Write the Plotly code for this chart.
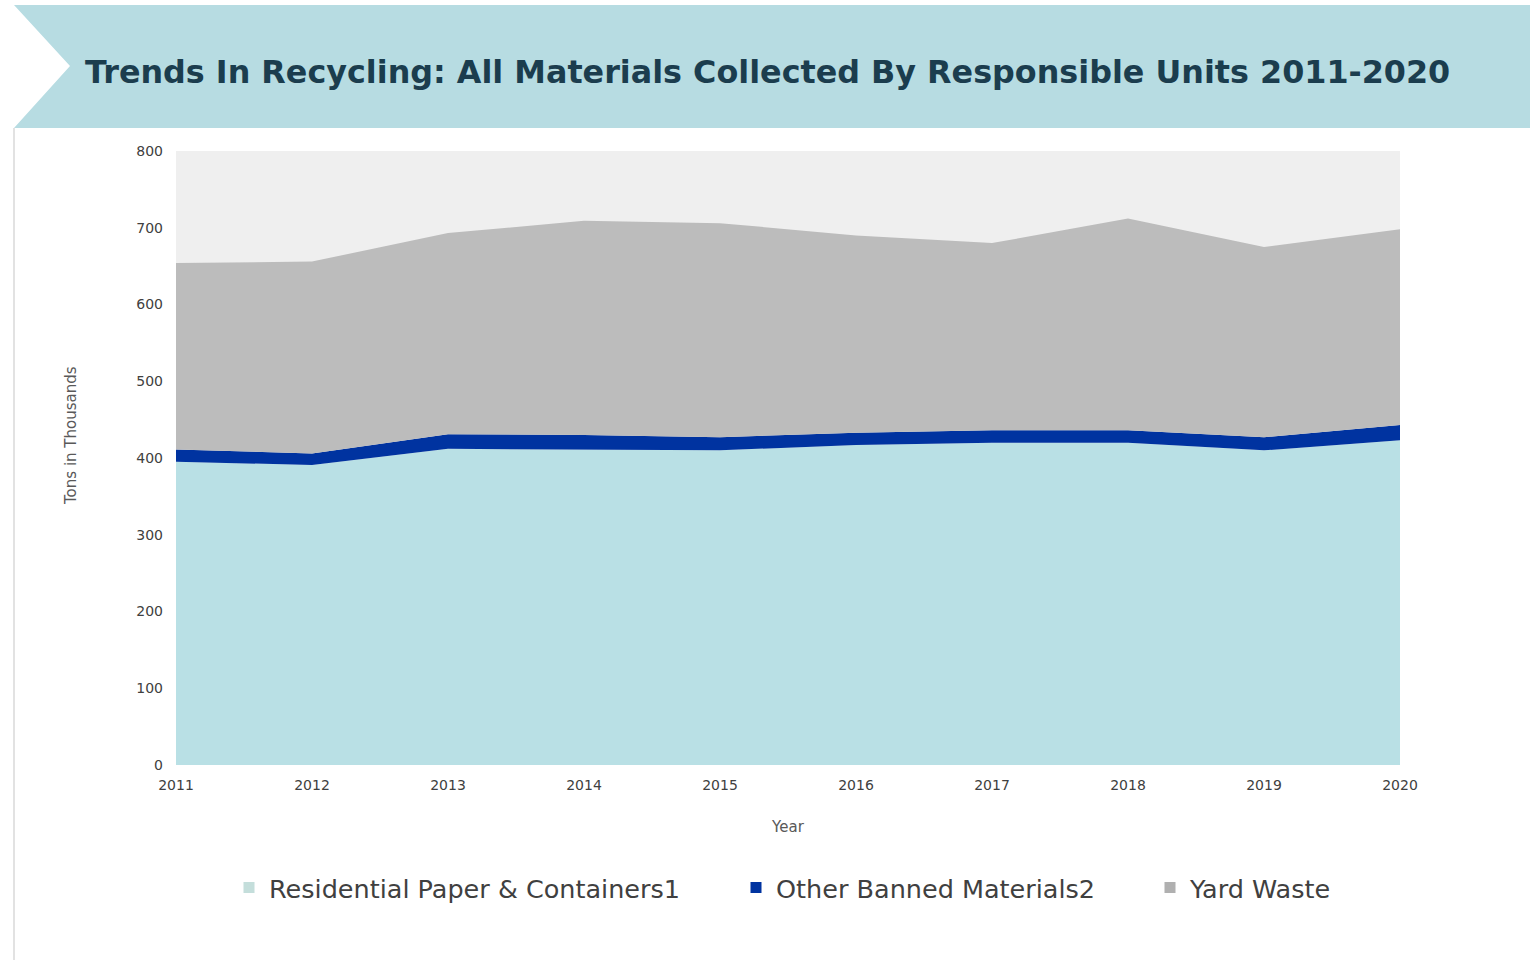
import plotly.graph_objects as go

years = [2011, 2012, 2013, 2014, 2015, 2016, 2017, 2018, 2019, 2020]
residential = [395, 391, 412, 411, 410, 417, 420, 420, 410, 423]
other_banned = [16, 15, 19, 19, 17, 16, 16, 16, 17, 20]
yard_waste = [243, 250, 262, 279, 279, 257, 244, 276, 248, 255]

series_names = ["Residential Paper & Containers1", "Other Banned Materials2", "Yard Waste"]
series_colors = ["#b9e0e5", "#0033a0", "#bcbcbc"]
legend_colors = ["#c4dedb", "#0033a0", "#b0b0b0"]
y_ticks = [0, 100, 200, 300, 400, 500, 600, 700, 800]

W, H = 1530, 960
ML, MR, MT, MB = 176, 130, 151, 195
PW, PH = W - ML - MR, H - MT - MB

def px(x):
    return (x - ML) / PW

def py(y):
    return (H - MB - y) / PH

fig = go.Figure()
for name, vals, col in zip(series_names, [residential, other_banned, yard_waste], series_colors):
    fig.add_trace(go.Scatter(
        x=years, y=vals, name=name, stackgroup="one", mode="lines",
        line=dict(width=0, color=col), fillcolor=col, showlegend=False,
        hoverinfo="x+y+name"))

legend_ids = ["legend", "legend2", "legend3"]
legend_text_x = [271, 778, 1192]
for name, col, lid in zip(series_names, legend_colors, legend_ids):
    fig.add_trace(go.Scatter(
        x=[None], y=[None], name=name, mode="markers", legend=lid,
        marker=dict(symbol="square", size=11, color=col), showlegend=True))

# banner
fig.add_shape(type="path", xref="paper", yref="paper",
              path=f"M {px(14)} {py(5)} L {px(1530)} {py(5)} L {px(1530)} {py(128)} L {px(14)} {py(128)} L {px(70)} {py(66)} Z",
              fillcolor="#b7dce2", line=dict(width=0), layer="below")
# left page border
fig.add_shape(type="line", xref="paper", yref="paper",
              x0=px(14), x1=px(14), y0=py(128), y1=py(960),
              line=dict(color="#d8d8d8", width=1.5), layer="below")

fig.add_annotation(text="<b>Trends In Recycling: All Materials Collected By Responsible Units 2011-2020</b>",
                   xref="paper", yref="paper", x=px(83), y=py(72), xanchor="left", yanchor="middle",
                   showarrow=False, font=dict(family="DejaVu Sans", size=31.8, color="#1b3d4e"))

fig.add_annotation(text="Tons in Thousands", xref="paper", yref="paper",
                   x=px(71), y=py(436), textangle=-90, showarrow=False,
                   xanchor="center", yanchor="middle",
                   font=dict(family="DejaVu Sans", size=15, color="#595959"))

legend_layout = {}
for lid, tx in zip(legend_ids, legend_text_x):
    legend_layout[lid] = dict(
        orientation="h", x=px(tx - 42), xanchor="left", y=py(888), yanchor="middle",
        font=dict(family="DejaVu Sans", size=25.5, color="#404040"),
        itemwidth=30, bgcolor="rgba(0,0,0,0)", borderwidth=0)

fig.update_layout(
    width=W, height=H,
    margin=dict(l=ML, r=MR, t=MT, b=MB),
    paper_bgcolor="white",
    plot_bgcolor="#efefef",
    font=dict(family="DejaVu Sans", color="#404040"),
    showlegend=True,
    xaxis=dict(range=[2011, 2020], tickmode="array", tickvals=years,
               ticktext=[str(y) for y in years], showgrid=False, zeroline=False,
               showline=False, ticks="", ticklabelstandoff=10,
               tickfont=dict(size=14, color="#404040"),
               title=dict(text="Year", font=dict(size=15, color="#595959"), standoff=29)),
    yaxis=dict(range=[0, 800], tickmode="array", tickvals=y_ticks, showgrid=False,
               zeroline=False, showline=False, ticks="", ticklabelstandoff=12,
               tickfont=dict(size=14, color="#404040")),
    **legend_layout,
)

fig.write_html("out.html", config={"displayModeBar": False},
               post_script="document.body.style.margin='0px';")
